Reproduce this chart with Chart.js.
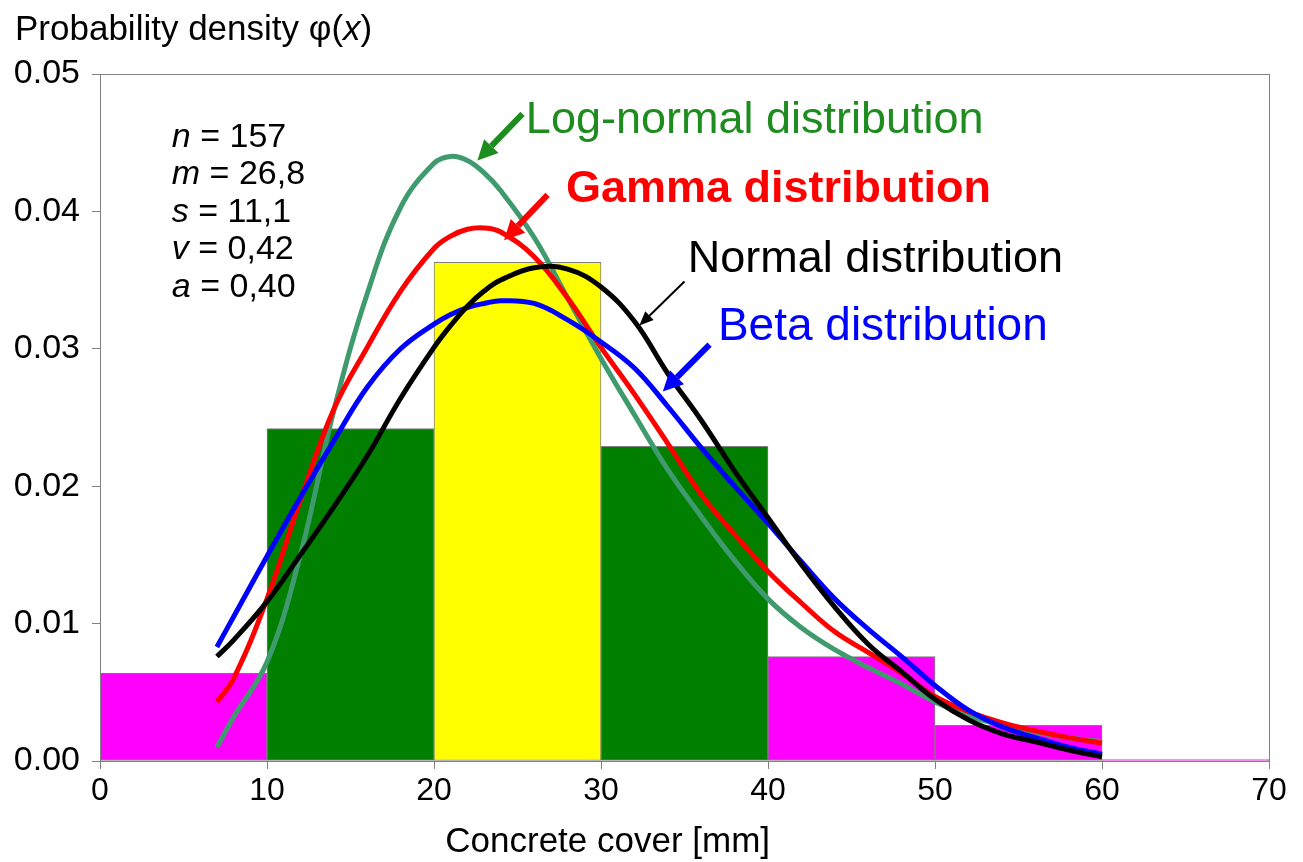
<!DOCTYPE html>
<html lang="en">
<head>
<meta charset="UTF-8">
<title>Concrete cover - probability density</title>
<script src="https://cdn.jsdelivr.net/npm/chart.js"></script>
<style>
  html, body { margin: 0; padding: 0; background: #fff; }
  #wrap { width: 1303px; height: 862px; }
</style>
</head>
<body>
<div id="wrap"><canvas id="chart"></canvas></div>
<script>
// histogram (bin centres, density)
const binCenters = [5, 15, 25, 35, 45, 55, 65];
const binDensity = [0.0064, 0.0242, 0.0363, 0.0229, 0.0076, 0.0026, 0.0001];
const binColors = ['#FF00FF', '#007F00', '#FFFF00', '#007F00', '#FF00FF', '#FF00FF', '#FF00FF'];

// fitted curves
const curveX = [7, 8, 10, 12, 14, 16, 18, 20, 21, 22, 23, 24, 26, 28, 30, 32, 34, 36, 38, 40, 42, 44, 46, 48, 50, 52, 54, 56, 58, 60];
const logNormal = [0.0010, 0.0032, 0.0072, 0.0150, 0.0255, 0.0340, 0.0403, 0.0435, 0.0440, 0.0437, 0.0428, 0.0415, 0.0381, 0.0337, 0.0293, 0.0252, 0.0212, 0.0178, 0.0146, 0.0118, 0.0097, 0.0081, 0.0068, 0.0056, 0.0043, 0.0033, 0.0026, 0.0021, 0.0017, 0.0014];
const gamma = [0.0043, 0.0060, 0.0118, 0.0190, 0.0256, 0.0301, 0.0342, 0.0373, 0.0382, 0.0387, 0.0388, 0.0385, 0.0367, 0.0337, 0.0301, 0.0267, 0.0231, 0.0194, 0.0165, 0.0138, 0.0115, 0.0094, 0.0079, 0.0064, 0.0047, 0.0036, 0.0028, 0.0022, 0.0017, 0.0013];
const normal = [0.0076, 0.0088, 0.0116, 0.0150, 0.0185, 0.0222, 0.0264, 0.0301, 0.0317, 0.0331, 0.0342, 0.0350, 0.0359, 0.0358, 0.0345, 0.0320, 0.0282, 0.0248, 0.0211, 0.0177, 0.0143, 0.0112, 0.0085, 0.0065, 0.0045, 0.0030, 0.0020, 0.0014, 0.0008, 0.0003];
const beta = [0.0083, 0.0105, 0.0149, 0.0192, 0.0233, 0.0272, 0.0300, 0.0318, 0.0325, 0.0330, 0.0333, 0.0335, 0.0333, 0.0321, 0.0305, 0.0286, 0.0258, 0.0228, 0.0200, 0.0173, 0.0145, 0.0118, 0.0096, 0.0076, 0.0055, 0.0037, 0.0025, 0.0017, 0.0010, 0.0005];

// sample statistics
const statNames = ['n', 'm', 's', 'v', 'a'];
const statValues = ['157', '26,8', '11,1', '0,42', '0,40'];

// labels with arrows: text, colour, bold, text anchor (data units), arrow tail, arrow tip
const notes = [
  { text: 'Log-normal distribution', color: '#1E8C1E', bold: false, size: 45, tx: 25.5, ty: 0.0466, ax: [25.3, 0.0471], bx: [22.6, 0.0437], w: 6 },
  { text: 'Gamma distribution', color: '#FF0000', bold: true, size: 45, tx: 27.9, ty: 0.0416, ax: [26.8, 0.0412], bx: [24.2, 0.0379], w: 6 },
  { text: 'Normal distribution', color: '#000000', bold: false, size: 45, tx: 35.2, ty: 0.0365, ax: [35.0, 0.0349], bx: [32.3, 0.0317], w: 2 },
  { text: 'Beta distribution', color: '#0000FF', bold: false, size: 46, tx: 37.0, ty: 0.0316, ax: [36.5, 0.0303], bx: [33.7, 0.0269], w: 6 }
];

const FONT = "'Liberation Sans', Arial, sans-serif";

function pts(ys) {
  return curveX.map((x, i) => ({ x: x, y: ys[i] }));
}

function arrow(ctx, x1, y1, x2, y2, color, w) {
  const ang = Math.atan2(y2 - y1, x2 - x1);
  const head = w > 3 ? 20 : 14;
  const half = w > 3 ? 10 : 6;
  const bx = x2 - head * Math.cos(ang), by = y2 - head * Math.sin(ang);
  ctx.save();
  ctx.strokeStyle = color;
  ctx.fillStyle = color;
  ctx.lineWidth = w;
  ctx.beginPath();
  ctx.moveTo(x1, y1);
  ctx.lineTo(bx, by);
  ctx.stroke();
  ctx.beginPath();
  ctx.moveTo(x2, y2);
  ctx.lineTo(bx + half * Math.sin(ang), by - half * Math.cos(ang));
  ctx.lineTo(bx - half * Math.sin(ang), by + half * Math.cos(ang));
  ctx.closePath();
  ctx.fill();
  ctx.restore();
}

const decor = {
  id: 'decor',
  afterDatasetsDraw(chart) {
    const ctx = chart.ctx;
    const xs = chart.scales.x, ys = chart.scales.y;
    const a = chart.chartArea;
    ctx.save();
    // frame
    ctx.strokeStyle = '#808080';
    ctx.lineWidth = 1;
    ctx.strokeRect(a.left + 0.5, a.top + 0.5, a.right - a.left, a.bottom - a.top);

    // y axis title, top left
    ctx.fillStyle = '#000';
    ctx.textBaseline = 'middle';
    ctx.textAlign = 'left';
    ctx.font = '35px ' + FONT;
    let t = 'Probability density φ(';
    ctx.fillText(t, 15, 30);
    let px = 15 + ctx.measureText(t).width;
    ctx.font = 'italic 35px ' + FONT;
    ctx.fillText('x', px, 30);
    px += ctx.measureText('x').width;
    ctx.font = '35px ' + FONT;
    ctx.fillText(')', px, 30);

    // x axis title (sits left of centre in the original)
    ctx.textAlign = 'center';
    ctx.fillText('Concrete cover [mm]', xs.getPixelForValue(30.4), 842);
    ctx.textAlign = 'left';

    // statistics block
    statNames.forEach((nm, i) => {
      const x = xs.getPixelForValue(4.3);
      const y = ys.getPixelForValue(0.0454 - i * 0.00273);
      ctx.font = 'italic 34px ' + FONT;
      ctx.fillText(nm, x, y);
      const w = ctx.measureText(nm).width;
      ctx.font = '34px ' + FONT;
      ctx.fillText(' = ' + statValues[i], x + w, y);
    });

    // labels and arrows
    notes.forEach(n => {
      arrow(ctx, xs.getPixelForValue(n.ax[0]), ys.getPixelForValue(n.ax[1]),
        xs.getPixelForValue(n.bx[0]), ys.getPixelForValue(n.bx[1]), n.color, n.w);
      ctx.font = (n.bold ? 'bold ' : '') + n.size + 'px ' + FONT;
      ctx.fillStyle = n.color;
      ctx.fillText(n.text, xs.getPixelForValue(n.tx), ys.getPixelForValue(n.ty));
    });
    ctx.restore();
  }
};

const lineStyle = (label, data, color) => ({
  type: 'line',
  label: label,
  data: pts(data),
  borderColor: color,
  borderWidth: 5,
  pointRadius: 0,
  tension: 0.4,
  fill: false,
  order: 0
});

new Chart(document.getElementById('chart'), {
  data: {
    datasets: [
      lineStyle('Normal', normal, '#000000'),
      lineStyle('Beta', beta, '#0000FF'),
      lineStyle('Gamma', gamma, '#FF0000'),
      lineStyle('Log-normal', logNormal, '#3F9B6E'),
      {
        type: 'bar',
        label: 'Histogram',
        data: binCenters.map((x, i) => ({ x: x, y: binDensity[i] })),
        backgroundColor: binColors,
        borderColor: '#7F7F7F',
        borderWidth: 1,
        borderSkipped: false,
        barPercentage: 1,
        categoryPercentage: 1,
        order: 1
      }
    ]
  },
  options: {
    responsive: true,
    maintainAspectRatio: false,
    animation: false,
    layout: { padding: { top: 74, right: 34, bottom: 0, left: 0 } },
    plugins: {
      legend: { display: false },
      tooltip: { enabled: false }
    },
    scales: {
      x: {
        type: 'linear',
        min: 0,
        max: 70,
        offset: false,
        afterFit(s) { s.height = 101; },
        grid: { drawOnChartArea: false, offset: false, tickLength: 8, color: '#808080' },
        border: { color: '#808080' },
        ticks: { stepSize: 10, color: '#000', padding: 3, font: { family: FONT, size: 32 } },
        title: { display: false }
      },
      y: {
        min: 0,
        max: 0.05,
        afterFit(s) { s.width = 100; },
        grid: { drawOnChartArea: false, tickLength: 8, color: '#808080' },
        border: { color: '#808080' },
        ticks: {
          stepSize: 0.01,
          color: '#000',
          padding: 12,
          font: { family: FONT, size: 34 },
          callback: v => v.toFixed(2)
        }
      }
    }
  },
  plugins: [decor]
});
</script>
</body>
</html>
